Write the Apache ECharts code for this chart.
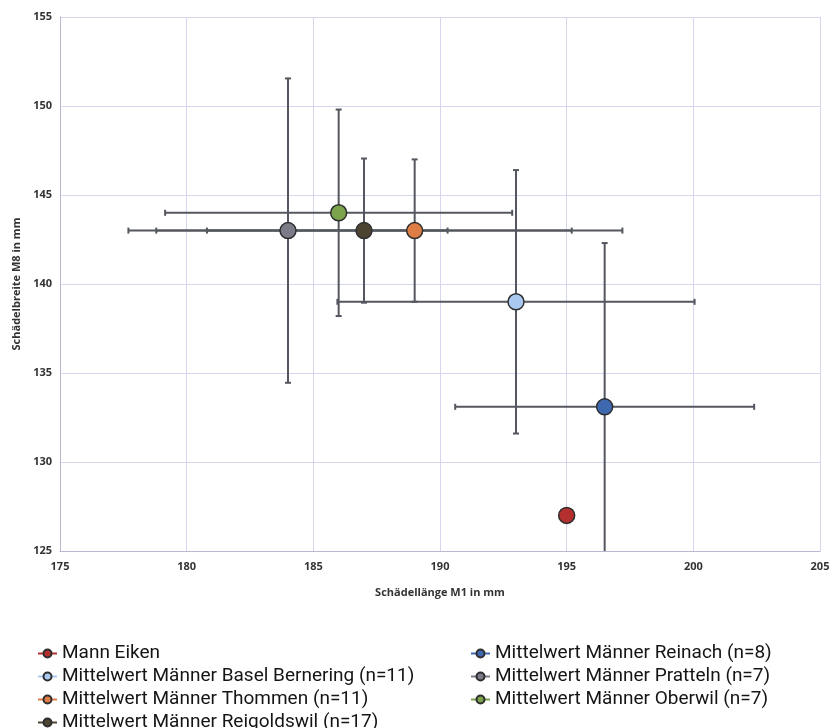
<!DOCTYPE html>
<html>
<head>
<meta charset="utf-8">
<script src="https://cdn.jsdelivr.net/npm/echarts@6/dist/echarts.min.js"></script>
<style>
html,body{margin:0;padding:0;background:#fff;}
#chart{width:834px;height:728px;}
</style>
</head>
<body>
<div id="chart"></div>
<script>
const seriesNames = [
  'Mann Eiken',
  'Mittelwert Männer Basel Bernering (n=11)',
  'Mittelwert Männer Thommen (n=11)',
  'Mittelwert Männer Reigoldswil (n=17)',
  'Mittelwert Männer Reinach (n=8)',
  'Mittelwert Männer Pratteln (n=7)',
  'Mittelwert Männer Oberwil (n=7)'
];
const xMeans = [195, 193, 189, 187, 196.5, 184, 186];
const yMeans = [127, 139, 143, 143, 133.1, 143, 144];
const xErrors = [0, 7.05, 8.2, 8.2, 5.9, 6.3, 6.85];
const yErrors = [0, 7.4, 4.0, 4.05, 9.2, 8.55, 5.8];
const xAxisTicks = [175, 180, 185, 190, 195, 200, 205];
const yAxisTicks = [125, 130, 135, 140, 145, 150, 155];

const markerColors = ['#B3302E', '#A9C9F1', '#DE7E46', '#4D4431', '#3E69B0', '#7C7C88', '#7BA34B'];

const errData = xMeans.map((x, i) => [x, yMeans[i], xErrors[i], yErrors[i]]);

function renderErr(params, api) {
  const x = api.value(0), y = api.value(1), xe = api.value(2), ye = api.value(3);
  const children = [];
  const st = {stroke: '#54575f', lineWidth: 2};
  const cap = 3;
  if (xe > 0) {
    const a = api.coord([x - xe, y]), b = api.coord([x + xe, y]);
    children.push({type: 'line', shape: {x1: a[0], y1: a[1], x2: b[0], y2: b[1]}, style: st});
    children.push({type: 'line', shape: {x1: a[0], y1: a[1] - cap, x2: a[0], y2: a[1] + cap}, style: st});
    children.push({type: 'line', shape: {x1: b[0], y1: b[1] - cap, x2: b[0], y2: b[1] + cap}, style: st});
  }
  if (ye > 0) {
    const a = api.coord([x, y + ye]), b = api.coord([x, y - ye]);
    children.push({type: 'line', shape: {x1: a[0], y1: a[1], x2: b[0], y2: b[1]}, style: st});
    children.push({type: 'line', shape: {x1: a[0] - cap, y1: a[1], x2: a[0] + cap, y2: a[1]}, style: st});
    children.push({type: 'line', shape: {x1: b[0] - cap, y1: b[1], x2: b[0] + cap, y2: b[1]}, style: st});
  }
  return {type: 'group', children: children};
}

const chart = echarts.init(document.getElementById('chart'), null, {renderer: 'canvas'});

const pointSeries = seriesNames.map((name, i) => ({
  name: name,
  type: 'line',
  data: [[xMeans[i], yMeans[i]]],
  symbol: 'circle',
  symbolSize: 16,
  z: 5,
  itemStyle: {color: markerColors[i], borderColor: '#2e2e2e', borderWidth: 1.5},
  lineStyle: {color: markerColors[i], width: 2},
  emphasis: {disabled: true}
}));

const axisLabelStyle = {color: '#333', fontSize: 11, fontWeight: 'bold', fontFamily: 'Open Sans'};
const gridLine = {show: true, lineStyle: {color: '#d6d6ee', width: 1}};
const legendText = {fontFamily: 'Roboto', fontSize: 19, color: '#151515', lineHeight: 18};

chart.setOption({
  animation: false,
  backgroundColor: '#fff',
  grid: {left: 60, right: 14, top: 17, bottom: 177, containLabel: false},
  xAxis: {
    type: 'value', min: xAxisTicks[0], max: xAxisTicks[xAxisTicks.length - 1], interval: 5,
    name: 'Schädellänge M1 in mm', nameLocation: 'middle', nameGap: 36,
    nameTextStyle: {color: '#333', fontSize: 11, fontWeight: 'bold', fontFamily: 'Open Sans'},
    axisLine: {show: true, lineStyle: {color: '#b8b8d0', width: 1}},
    axisTick: {show: false},
    axisLabel: Object.assign({margin: 10}, axisLabelStyle),
    splitLine: gridLine
  },
  yAxis: {
    type: 'value', min: yAxisTicks[0], max: yAxisTicks[yAxisTicks.length - 1], interval: 5,
    name: 'Schädelbreite M8 in mm', nameLocation: 'middle', nameGap: 37,
    nameTextStyle: {color: '#333', fontSize: 11, fontWeight: 'bold', fontFamily: 'Open Sans'},
    axisLine: {show: true, lineStyle: {color: '#b8b8d0', width: 1}},
    axisTick: {show: false},
    axisLabel: Object.assign({margin: 8}, axisLabelStyle),
    splitLine: gridLine
  },
  legend: [
    {
      orient: 'vertical', left: 37, top: 644, padding: 0, height: 100,
      data: seriesNames.slice(0, 4),
      itemWidth: 19, itemHeight: 10, itemGap: 4,
      lineStyle: {width: 2},
      textStyle: legendText,
      selectedMode: false
    },
    {
      orient: 'vertical', left: 470, top: 644, padding: 0, height: 100,
      data: seriesNames.slice(4),
      itemWidth: 19, itemHeight: 10, itemGap: 4,
      lineStyle: {width: 2},
      textStyle: legendText,
      selectedMode: false
    }
  ],
  series: [
    {
      type: 'custom',
      name: 'errors',
      renderItem: renderErr,
      data: errData,
      clip: true,
      z: 2,
      encode: {x: 0, y: 1},
      silent: true
    }
  ].concat(pointSeries)
});
</script>
</body>
</html>
